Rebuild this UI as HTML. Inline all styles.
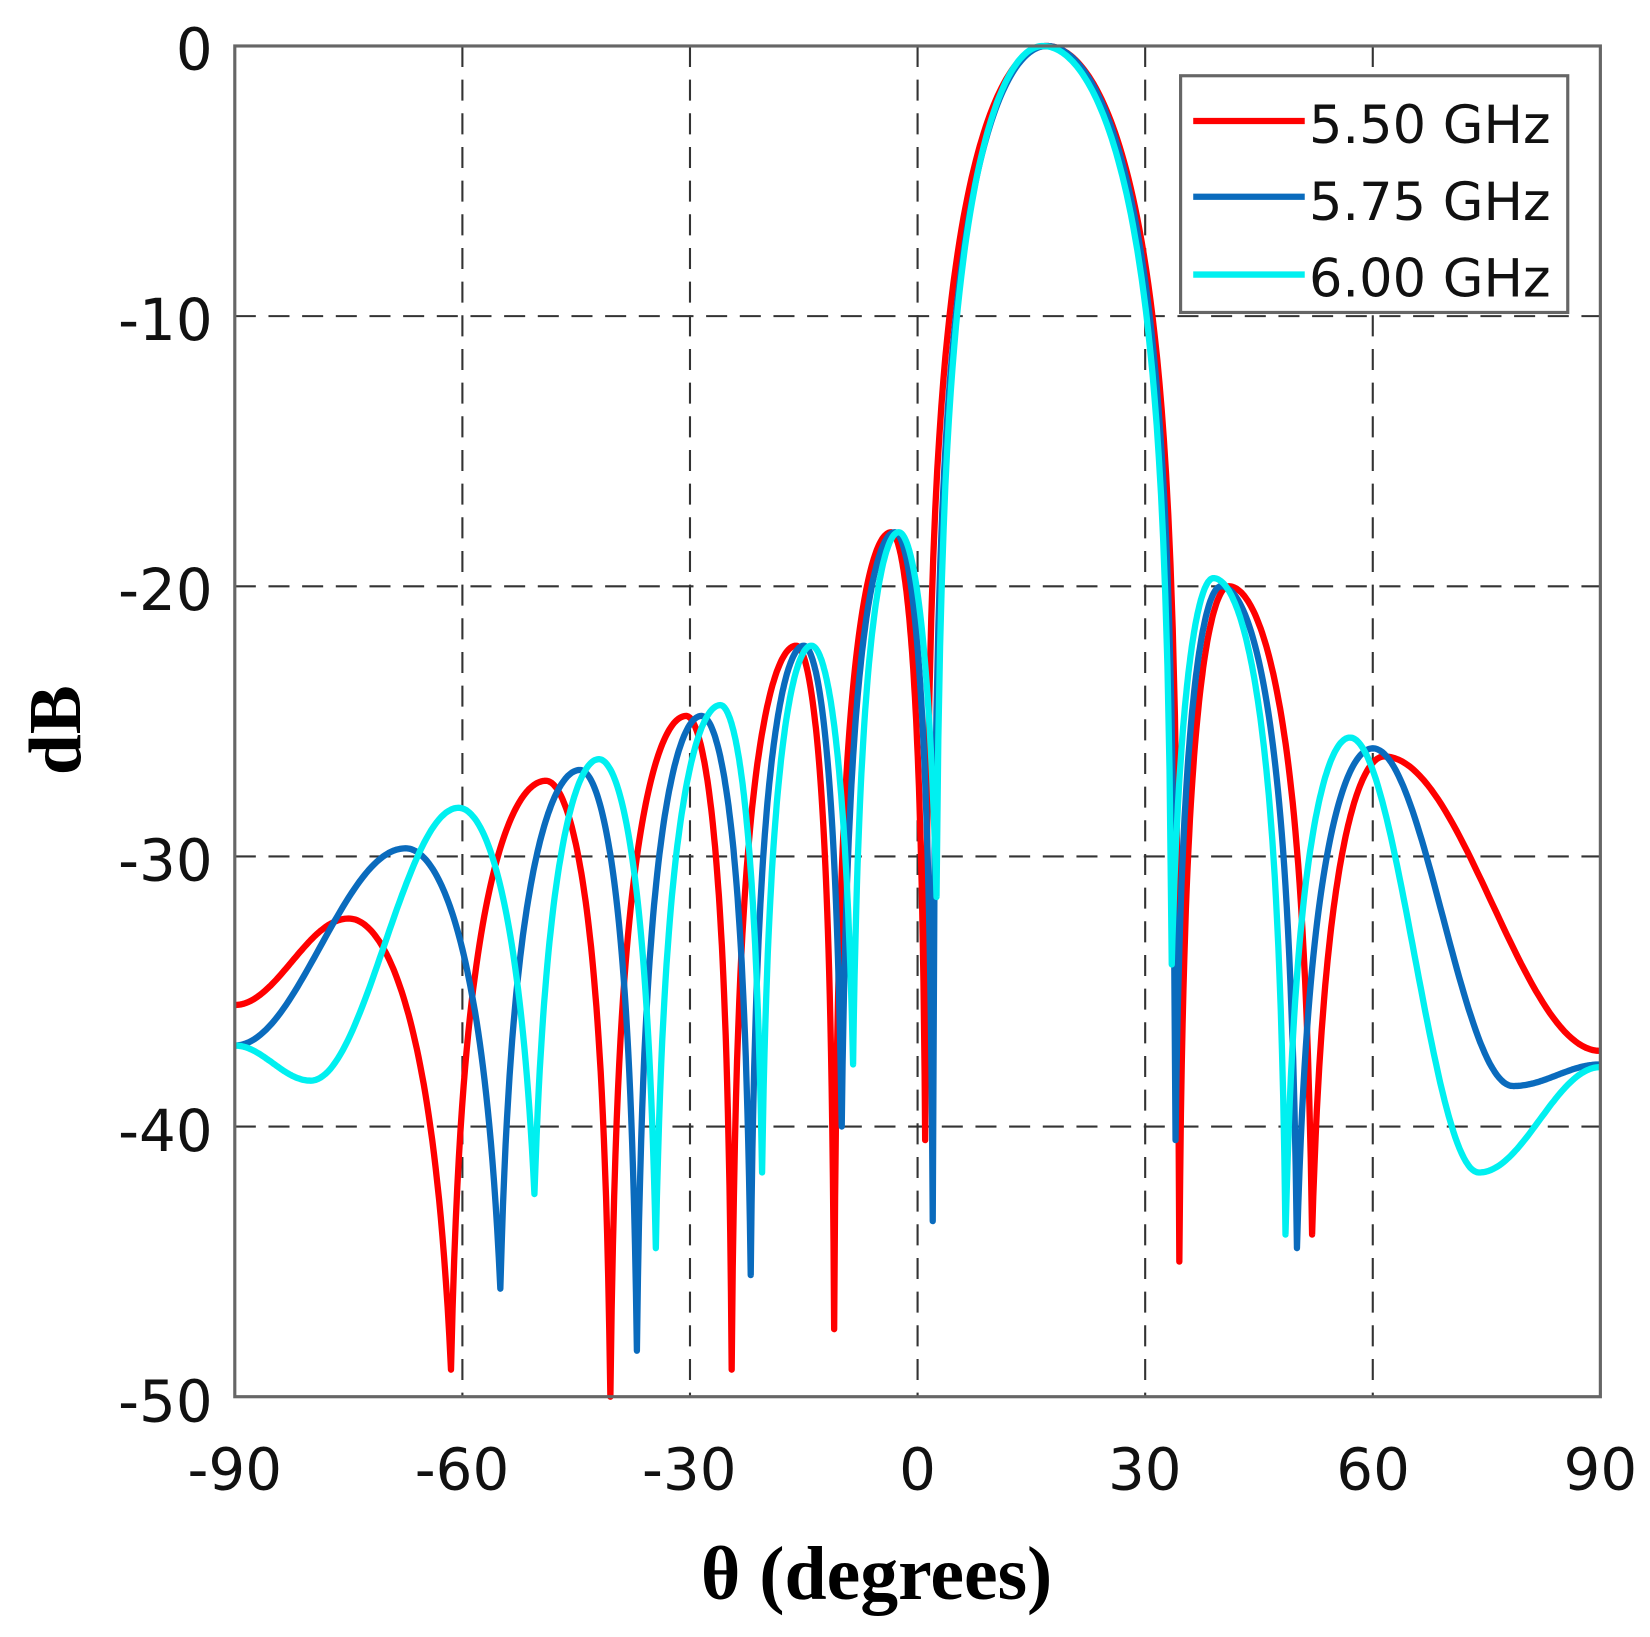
<!DOCTYPE html>
<html><head><meta charset="utf-8"><style>html,body{margin:0;padding:0;background:#fff}svg{display:block}</style></head>
<body>
<svg id="s" width="1650" height="1637" viewBox="0 0 1568 1556" xmlns="http://www.w3.org/2000/svg">
<rect width="1568" height="1556" fill="#fff"/>
<g id="grid" stroke="#333" stroke-width="2" stroke-dasharray="20,12" fill="none"></g>
<g id="curves" fill="none" stroke-width="6" stroke-linejoin="round"></g>
<rect x="223" y="43.7" width="1298" height="1283.9" fill="none" stroke="#666" stroke-width="3"/>
<g font-family="'DejaVu Sans','Liberation Sans',sans-serif" font-size="55" fill="#111">
<g text-anchor="end">
<text x="202" y="66">0</text><text x="202" y="323">-10</text><text x="202" y="580">-20</text>
<text x="202" y="837">-30</text><text x="202" y="1094">-40</text><text x="202" y="1351">-50</text>
</g>
<g text-anchor="middle">
<text x="223" y="1416">-90</text><text x="439" y="1416">-60</text><text x="655" y="1416">-30</text>
<text x="872" y="1416">0</text><text x="1088" y="1416">30</text><text x="1305" y="1416">60</text><text x="1521" y="1416">90</text>
</g>
</g>
<text x="833" y="1520" text-anchor="middle" font-family="'Liberation Serif',serif" font-weight="bold" font-size="72">θ (degrees)</text>
<text transform="translate(76,694) rotate(-90)" text-anchor="middle" font-family="'Liberation Serif',serif" font-weight="bold" font-size="70">dB</text>
<rect x="1122" y="72" width="368" height="225" fill="#fff" stroke="#666" stroke-width="3"/>
<line x1="1134" y1="115" x2="1240" y2="115" stroke="#ff0000" stroke-width="6"/>
<line x1="1134" y1="187" x2="1240" y2="187" stroke="#0a6bbd" stroke-width="6"/>
<line x1="1134" y1="261" x2="1240" y2="261" stroke="#00f0f0" stroke-width="6"/>
<g font-family="'DejaVu Sans','Liberation Sans',sans-serif" font-size="50" fill="#111">
<text x="1244" y="136">5.50 GHz</text><text x="1244" y="209">5.75 GHz</text><text x="1244" y="282">6.00 GHz</text>
</g>
</svg>
<script>
const L=223,R=1521,T=43.7,B=1327.6;
const X=t=>L+(t+90)*(R-L)/180, Y=d=>T+(-d)*(B-T)/50;
const g=document.getElementById('grid');let h='';
for(const t of [-60,-30,0,30,60])h+=`<line x1="${X(t)}" y1="${T}" x2="${X(t)}" y2="${B}"/>`;
for(const d of [-10,-20,-30,-40])h+=`<line x1="${L}" y1="${Y(d)}" x2="${R}" y2="${Y(d)}"/>`;
g.innerHTML=h;
const series=[
["#ff0000",[[-90,-35.5,'s'],[-75,-32.3,'p'],[-61.5,-49,'n'],[-49,-27.2,'p'],[-40.5,-50,'n'],[-30.5,-24.8,'p'],[-24.5,-49,'n'],[-16,-22.2,'p'],[-11,-47.5,'n'],[-3.5,-18,'p'],[1,-40.5,'n'],[17,0,'p'],[34.5,-45,'n'],[41,-20,'p'],[52,-44,'n'],[61.5,-26.3,'p'],[90,-37.2,'s']]],
["#0a6bbd",[[-90,-37,'s'],[-67.5,-29.7,'p'],[-55,-46,'n'],[-44.5,-26.8,'p'],[-37,-48.3,'n'],[-28.5,-24.8,'p'],[-22,-45.5,'n'],[-15,-22.2,'p'],[-10,-40,'n'],[-3,-18,'p'],[2,-43.5,'n'],[17,0,'p'],[34,-40.5,'n'],[40,-20,'p'],[50,-44.5,'n'],[60,-26,'p'],[78.5,-38.5,'s'],[90,-37.7,'s']]],
["#00f0f0",[[-90,-37,'s'],[-80,-38.3,'s'],[-60.5,-28.2,'p'],[-50.5,-42.5,'n'],[-42,-26.4,'p'],[-34.5,-44.5,'n'],[-26,-24.4,'p'],[-20.5,-41.7,'n'],[-14,-22.2,'p'],[-8.5,-37.7,'n'],[-2.5,-18,'p'],[2.5,-31.5,'n'],[16.5,0,'p'],[33.5,-34,'n'],[39,-19.7,'p'],[48.5,-44,'n'],[57,-25.6,'p'],[74,-41.7,'s'],[90,-37.8,'s']]]
];
const A=d=>Math.pow(10,d/20), D=a=>20*Math.log10(a);
const c=document.getElementById('curves');let out='';
for(const [col,nd] of series){
 let pts=[];
 for(let i=0;i<nd.length-1;i++){
  const a=nd[i],b=nd[i+1];const N=60;
  for(let k=0;k<=N;k++){
   const u=k/N;const t=a[0]+(b[0]-a[0])*u;let d;
   if(a[2]=='n'||b[2]=='n'){
     const nl=a[2]=='n'?a:b, pk=a[2]=='n'?b:a;
     const tt=a[2]=='n'?u:1-u;
     const an=A(nl[1]),ap=A(pk[1]);
     d=D(an+(ap-an)*Math.sin(Math.PI/2*tt));
   } else {
     d=a[1]+(b[1]-a[1])*(1-Math.cos(Math.PI*u))/2;
   }
   pts.push(X(t).toFixed(1)+','+Y(d).toFixed(1));
  }
 }
 out+=`<polyline stroke="${col}" points="${pts.join(' ')}"/>`;
}
c.innerHTML=out;
</script>
</body></html>
